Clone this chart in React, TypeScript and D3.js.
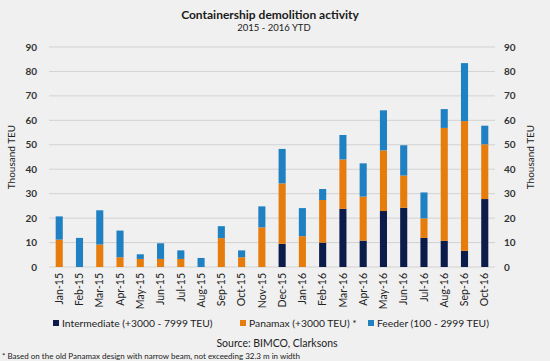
import React from "react";
import * as d3 from "d3";

const months = [
  "Jan-15", "Feb-15", "Mar-15", "Apr-15", "May-15", "Jun-15", "Jul-15", "Aug-15",
  "Sep-15", "Oct-15", "Nov-15", "Dec-15", "Jan-16", "Feb-16", "Mar-16", "Apr-16",
  "May-16", "Jun-16", "Jul-16", "Aug-16", "Sep-16", "Oct-16",
];
const intermediate = [0, 0, 0, 0, 0, 0, 0, 0, 0, 0, 0, 9.5, 0, 10, 23.8, 10.8, 22.9, 24.2, 11.9, 10.7, 6.6, 27.8];
const panamax = [11.2, 0, 9.2, 4, 3.3, 3.3, 3.3, 0, 11.8, 4, 16.2, 24.7, 12.6, 17.4, 20.2, 18, 24.8, 13.2, 8, 46.2, 53.1, 22.4];
const feeder = [9.5, 11.9, 14, 10.9, 1.9, 6.4, 3.5, 3.7, 4.9, 2.8, 8.6, 14.1, 11.5, 4.5, 10, 13.6, 16.4, 12.4, 10.6, 7.7, 23.7, 7.6];
const yTicks = [0, 10, 20, 30, 40, 50, 60, 70, 80, 90];

const seriesNames = ["Intermediate (+3000 - 7999 TEU)", "Panamax (+3000 TEU) *", "Feeder (100 - 2999 TEU)"];
const colors = ["#0c1c4a", "#e67c0c", "#1f80c2"];

const W = 550;
const H = 361;
const left = 49;
const right = 495;
const top = 47;
const bottom = 267;
const font = "Lato, 'Open Sans', sans-serif";

export default function App() {
  const x = d3.scaleBand<string>().domain(months).range([left, right]).paddingInner(0.65).paddingOuter(0.33);
  const y = d3.scaleLinear().domain([0, 90]).range([bottom, top]);

  const rows = months.map((m, i) => ({ m, a: intermediate[i], b: panamax[i], c: feeder[i] }));
  const stack = d3.stack<any>().keys(["a", "b", "c"])(rows);

  const legendX = [53, 240, 368];

  return (
    <svg width={W} height={H} style={{ position: "absolute", left: 0, top: 0, background: "#f0f0f0" }} fontFamily={font}>
      <rect x={0} y={0} width={W} height={H} fill="#f0f0f0" />
      <text x={270} y={19} textAnchor="middle" fontSize={12} fontWeight={700} fill="#1a1a1a">
        Containership demolition activity
      </text>
      <text x={274} y={31} textAnchor="middle" fontSize={9.5} fill="#1a1a1a">
        2015 - 2016 YTD
      </text>

      {yTicks.map((t) => (
        <g key={t}>
          <line x1={left} x2={right} y1={y(t)} y2={y(t)} stroke="#d2d2d2" strokeWidth={1} />
          <text x={37} y={y(t)} dy="0.35em" textAnchor="end" fontSize={10} fontWeight={700} fill="#333">{t}</text>
          <text x={504} y={y(t)} dy="0.35em" textAnchor="start" fontSize={10} fontWeight={700} fill="#333">{t}</text>
        </g>
      ))}

      <text transform={`translate(15,${(top + bottom) / 2}) rotate(-90)`} textAnchor="middle" fontSize={10} fill="#222">
        Thousand TEU
      </text>
      <text transform={`translate(534,${(top + bottom) / 2}) rotate(-90)`} textAnchor="middle" fontSize={10} fill="#222">
        Thousand TEU
      </text>

      {stack.map((s, k) => (
        <g key={k} fill={colors[k]}>
          {s.map((d, i) =>
            d[1] - d[0] > 0 ? (
              <rect key={i} x={x(months[i])} width={x.bandwidth()} y={y(d[1])} height={y(d[0]) - y(d[1])} />
            ) : null
          )}
        </g>
      ))}

      {months.map((m) => (
        <text
          key={m}
          transform={`translate(${(x(m) as number) + x.bandwidth() / 2},273) rotate(-90)`}
          textAnchor="end"
          dy="0.35em"
          fontSize={10.5}
          fill="#222"
        >
          {m}
        </text>
      ))}

      {seriesNames.map((n, i) => (
        <g key={n}>
          <rect x={legendX[i]} y={320} width={6} height={6} fill={colors[i]} />
          <text x={legendX[i] + 9} y={323} dy="0.35em" fontSize={10.3} fill="#222">{n}</text>
        </g>
      ))}

      <text x={277} y={343} dy="0.35em" textAnchor="middle" fontSize={10.5} fill="#222">
        Source: BIMCO, Clarksons
      </text>
      <text x={2} y={356} dy="0.35em" fontSize={8} fill="#222">
        * Based on the old Panamax design with narrow beam, not exceeding 32.3 m in width
      </text>
    </svg>
  );
}
